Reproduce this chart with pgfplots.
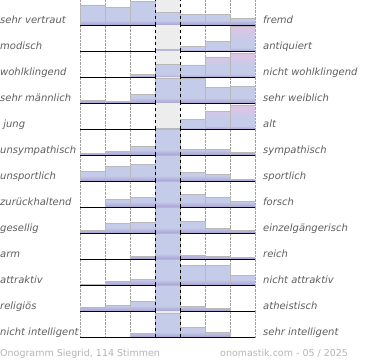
\documentclass[border=0pt]{standalone}
\usepackage{pgfplots}
\pgfplotsset{compat=1.18}
\usepackage{fontspec}
\setmainfont{DejaVu Sans}
\definecolor{barblue}{HTML}{C5CCE9}
\definecolor{barpurple}{HTML}{A99FD2}
\definecolor{barpink}{HTML}{DCC4E4}
\definecolor{labgray}{HTML}{5E5E5E}
\definecolor{footgray}{HTML}{B4B4B4}
\pgfdeclareverticalshading{barshade}{100bp}{color(0bp)=(barpurple); color(25bp)=(barpurple); color(36bp)=(barblue); color(100bp)=(barblue)}
\pgfdeclareverticalshading{pinkshade}{100bp}{color(0bp)=(barpurple); color(25bp)=(barpurple); color(32bp)=(barblue); color(50bp)=(barblue); color(68bp)=(barpink); color(100bp)=(barpink)}
\pgfplotsset{rowax/.style={
  scale only axis, width=175pt, height=26pt,
  xmin=0, xmax=7, ymin=0, ymax=26,
  axis line style={draw=none}, tick style={draw=none},
  xtick={0,1,2,5,6,7}, xticklabels={}, ytick=\empty,
  xmajorgrids, major grid style={gray!75, densely dotted, line width=0.5pt},
  anchor=south west,
}}
\newcommand{\lab}{\fontsize{10}{12}\selectfont\itshape\color{labgray}}
\newcommand{\hrow}[5]{%
\begin{axis}[rowax, at={(80pt,#1pt)}]
\fill[black!7] (axis cs:3,0) rectangle (axis cs:4,26);
\addplot[ybar, bar width=1, bar shift=0pt, shade, shading=barshade, draw=gray!55, line width=0.5pt] coordinates {#2};
#3
\draw[black, dashed, line width=0.6pt] (axis cs:3,0) -- (axis cs:3,26) (axis cs:4,0) -- (axis cs:4,26);
\draw[black, line width=1pt] (axis cs:0,0) -- (axis cs:7,0);
\end{axis}
\node[anchor=base west, inner sep=0pt] at (0pt,#1pt+1.5pt) {\lab #4};
\node[anchor=base west, inner sep=0pt] at (263pt,#1pt+1.5pt) {\lab #5};
}
\newcommand{\pinkbars}[1]{\addplot[ybar, bar width=1, bar shift=0pt, shade, shading=pinkshade, draw=gray!55, line width=0.5pt] coordinates {#1};}
\begin{document}
\begin{tikzpicture}
\useasboundingbox (0pt,0pt) rectangle (370pt,360pt);
\hrow{334.7}{(0.5,20.3) (1.5,17.7) (2.5,23.7) (3.5,13.3) (4.5,11.3) (5.5,11.3) (6.5,7.3)}{}{sehr vertraut}{fremd}
\hrow{308.7}{(0.5,0) (1.5,0.3) (2.5,0) (3.5,2) (4.5,5) (5.5,9.7)}{\pinkbars{(6.5,25)}}{modisch}{antiquiert}
\hrow{282.7}{(0.5,0) (1.5,0) (2.5,3.3) (3.5,12.7) (4.5,12.5)}{\pinkbars{(5.5,20.3) (6.5,24.5)}}{wohlklingend}{nicht wohlklingend}
\hrow{256.7}{(0.5,3.3) (1.5,1.7) (2.5,9) (3.5,25) (4.5,25) (5.5,16) (6.5,17.3)}{}{sehr männlich}{sehr weiblich}
\hrow{230.7}{(0.5,0) (1.5,0) (2.5,0) (3.5,1) (4.5,9.7)}{\pinkbars{(5.5,17.7) (6.5,24.5)}}{\ jung}{alt}
\hrow{204.7}{(0.5,2) (1.5,4.3) (2.5,9) (3.5,26) (4.5,6.3) (5.5,6.3) (6.5,3.3)}{}{unsympathisch}{sympathisch}
\hrow{178.7}{(0.5,10) (1.5,15.3) (2.5,16.7) (3.5,26) (4.5,8.7) (5.5,7.3) (6.5,1.7)}{}{unsportlich}{sportlich}
\hrow{152.7}{(0.5,0) (1.5,8.3) (2.5,10) (3.5,26) (4.5,13) (5.5,10) (6.5,6.3)}{}{zurückhaltend}{forsch}
\hrow{126.7}{(0.5,3) (1.5,9.7) (2.5,10.7) (3.5,26) (4.5,12.3) (5.5,5.3) (6.5,3)}{}{gesellig}{einzelgängerisch}
\hrow{100.7}{(0.5,0) (1.5,0.3) (2.5,2.7) (3.5,26) (4.5,4) (5.5,2.7) (6.5,1.7)}{}{arm}{reich}
\hrow{74.7}{(0.5,1.3) (1.5,3.7) (2.5,5.7) (3.5,26) (4.5,20) (5.5,19.7) (6.5,9.7)}{}{attraktiv}{nicht attraktiv}
\hrow{48.7}{(0.5,4) (1.5,6.3) (2.5,10) (3.5,26) (4.5,5) (5.5,2.7) (6.5,0)}{}{religiös}{atheistisch}
\hrow{22.7}{(0.5,0) (1.5,0) (2.5,4.3) (3.5,24.3) (4.5,10) (5.5,5.3) (6.5,0)}{}{nicht intelligent}{sehr intelligent}
\node[anchor=base west, inner sep=0pt, font=\fontsize{9.5}{11}\selectfont, text=footgray] at (0pt,4pt) {Onogramm Siegrid, 114 Stimmen};
\node[anchor=base west, inner sep=0pt, font=\fontsize{9.5}{11}\selectfont, text=footgray] at (220pt,4pt) {onomastik.com - 05 / 2025};
\end{tikzpicture}
\end{document}
